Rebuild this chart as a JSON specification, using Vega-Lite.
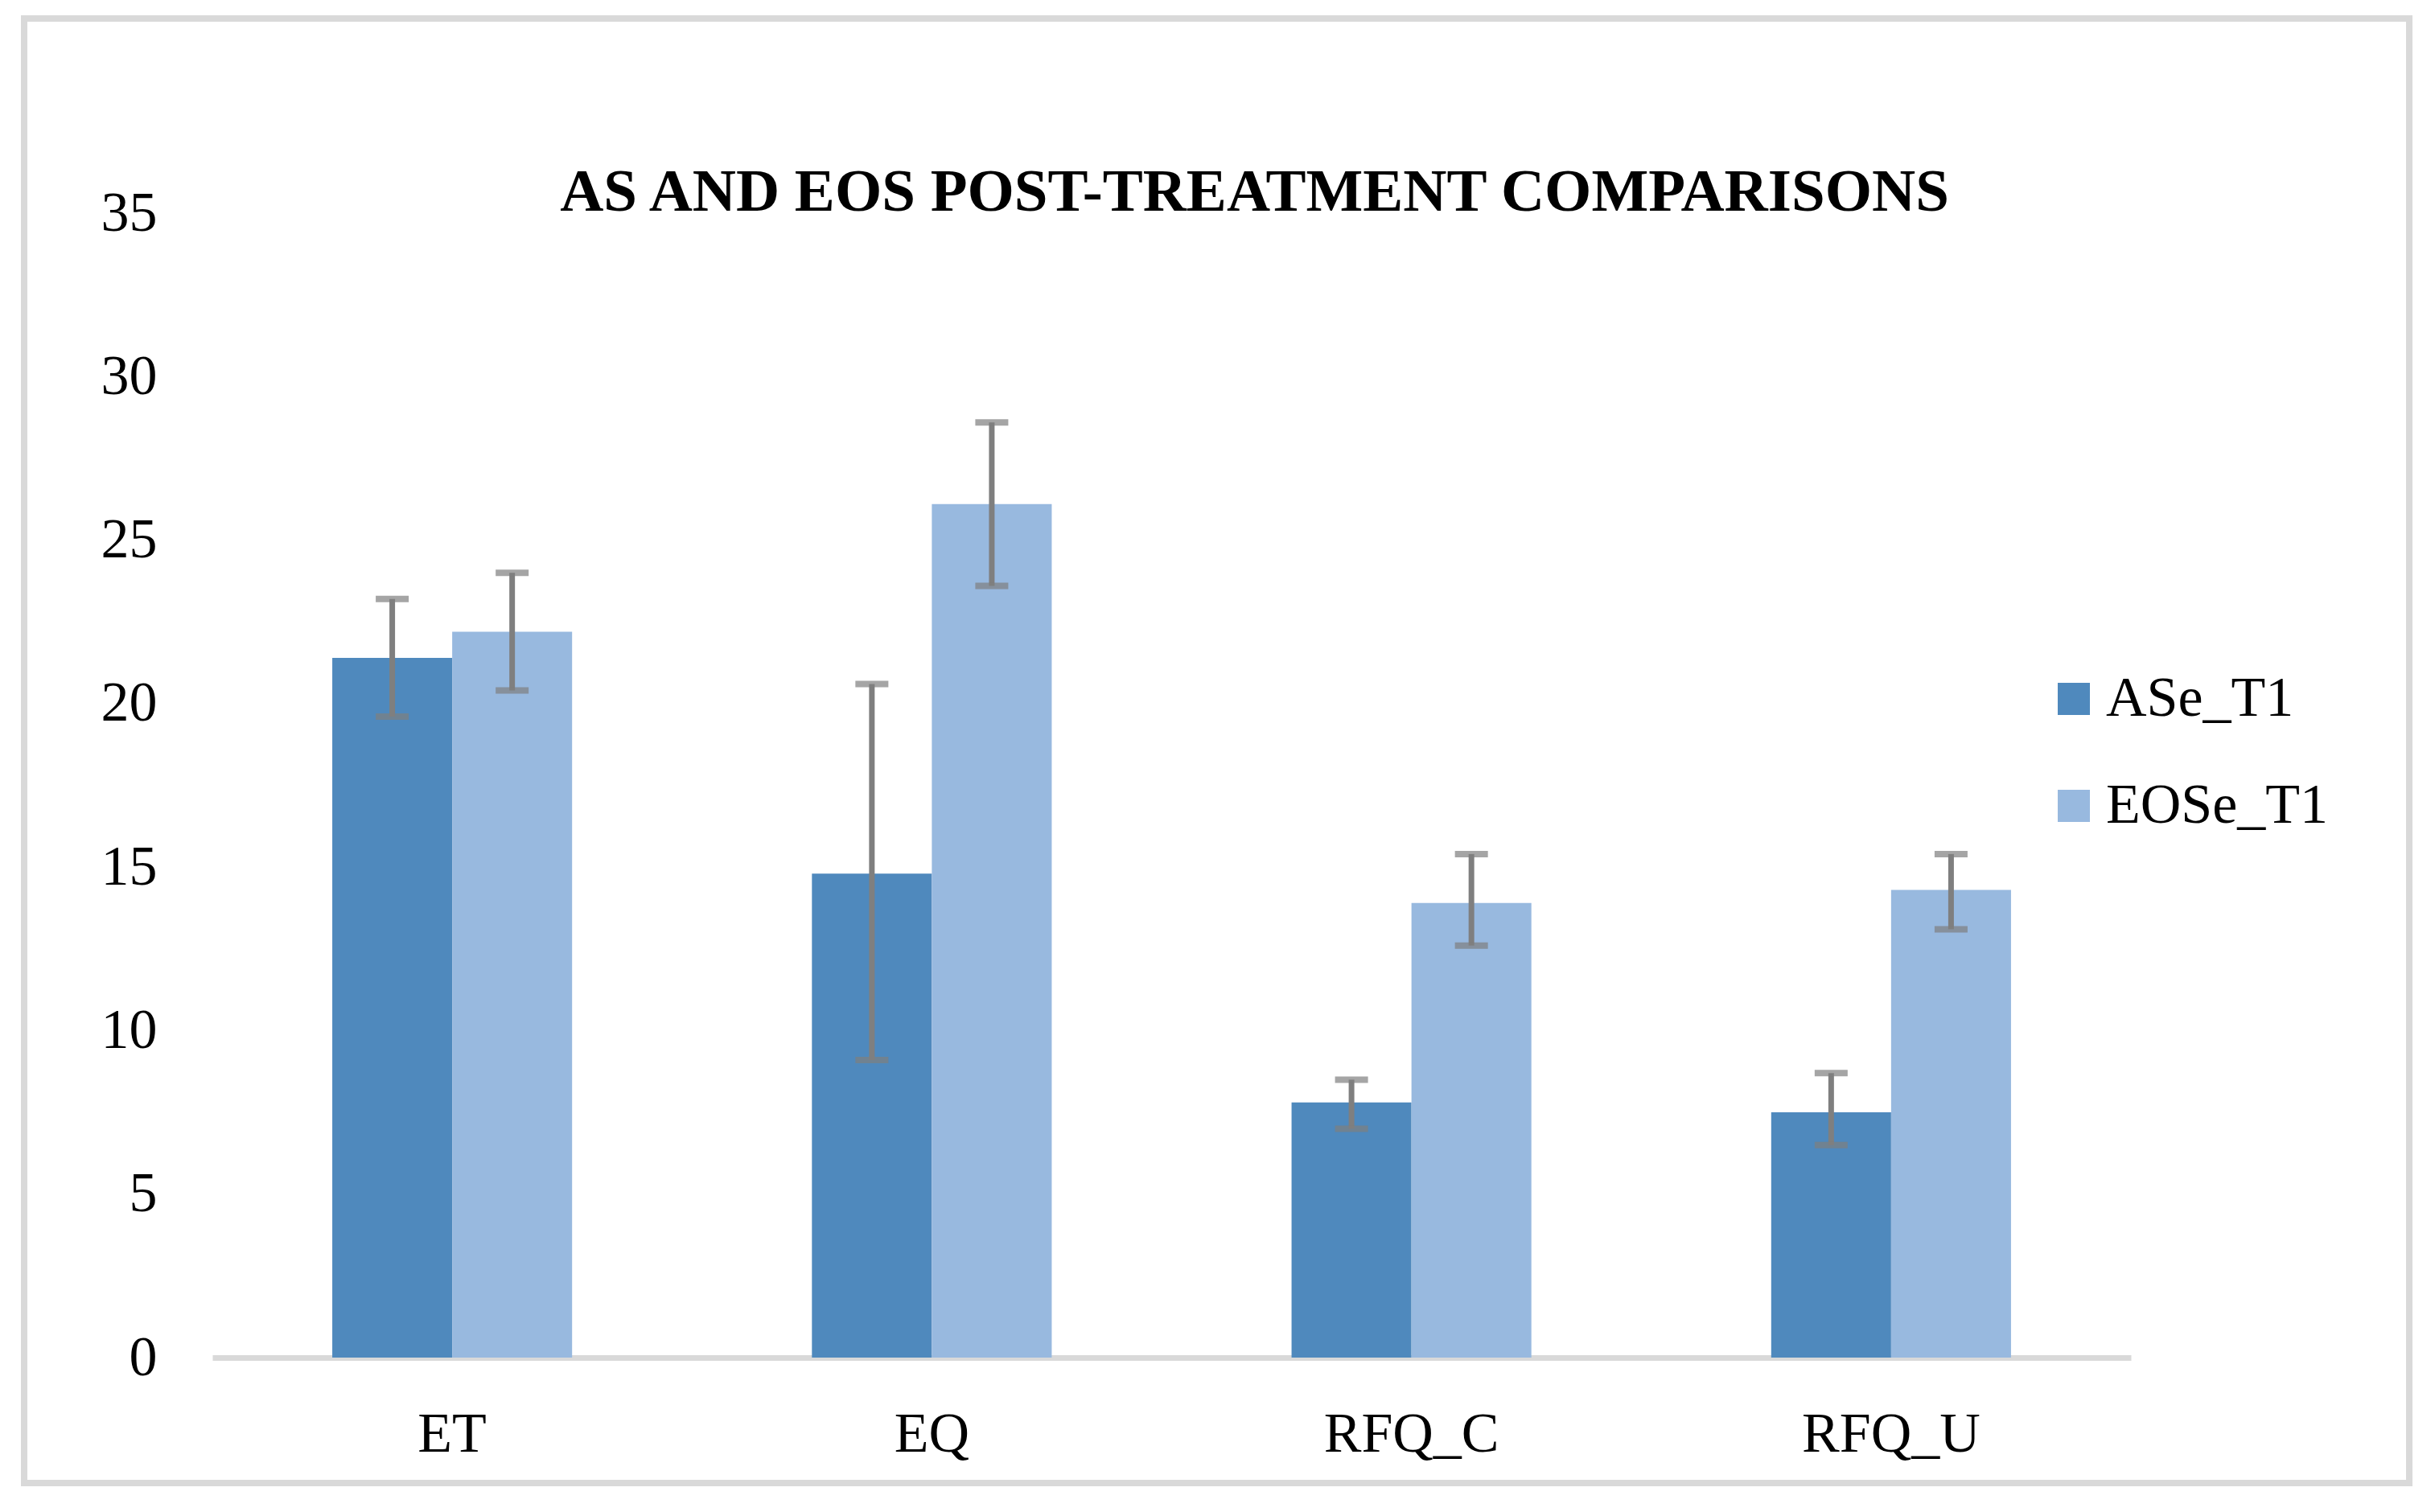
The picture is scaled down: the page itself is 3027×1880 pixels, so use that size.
{
  "$schema": "https://vega.github.io/schema/vega-lite/v6.json",
  "autosize": {"type": "none"},
  "padding": {"left": 30, "top": 23, "right": 32, "bottom": 36},
  "width": 2965,
  "height": 1821,
  "background": "white",
  "title": {
    "text": "AS AND EOS POST-TREATMENT COMPARISONS",
    "font": "Liberation Serif",
    "fontSize": 75,
    "fontWeight": "bold",
    "color": "black",
    "anchor": "middle",
    "frame": "group",
    "baseline": "alphabetic",
    "offset": 0,
    "dx": 47,
    "dy": 314,
    "limit": 0
  },
  "data": {
    "values": [
      {"cat": "ET", "series": "ASe_T1", "value": 21.4, "lo": 19.6, "hi": 23.2},
      {"cat": "ET", "series": "EOSe_T1", "value": 22.2, "lo": 20.4, "hi": 24.0},
      {"cat": "EQ", "series": "ASe_T1", "value": 14.8, "lo": 9.1, "hi": 20.6},
      {"cat": "EQ", "series": "EOSe_T1", "value": 26.1, "lo": 23.6, "hi": 28.6},
      {"cat": "RFQ_C", "series": "ASe_T1", "value": 7.8, "lo": 7.0, "hi": 8.5},
      {"cat": "RFQ_C", "series": "EOSe_T1", "value": 13.9, "lo": 12.6, "hi": 15.4},
      {"cat": "RFQ_U", "series": "ASe_T1", "value": 7.5, "lo": 6.5, "hi": 8.7},
      {"cat": "RFQ_U", "series": "EOSe_T1", "value": 14.3, "lo": 13.1, "hi": 15.4}
    ]
  },
  "encoding": {
    "x": {
      "field": "cat",
      "type": "nominal",
      "sort": ["ET", "EQ", "RFQ_C", "RFQ_U"],
      "scale": {"type": "band", "paddingInner": 0.5, "paddingOuter": 0.25, "range": [234, 2619]},
      "axis": {
        "title": null,
        "orient": "bottom",
        "offset": -156,
        "labelAngle": 0,
        "labelFont": "Liberation Serif",
        "labelFontSize": 70,
        "labelColor": "black",
        "labelPadding": 61,
        "labelLimit": 0,
        "ticks": false,
        "tickSize": 0,
        "domain": true,
        "domainColor": "#d9d9d9",
        "domainWidth": 7,
        "grid": false
      }
    },
    "xOffset": {"field": "series", "type": "nominal", "sort": ["ASe_T1", "EOSe_T1"], "scale": {"paddingInner": 0, "paddingOuter": 0}},
    "y": {
      "field": "value",
      "type": "quantitative",
      "scale": {"domain": [0, 35], "nice": false, "zero": true, "range": [1665, 242]},
      "axis": {
        "title": null,
        "offset": -234,
        "values": [0, 5, 10, 15, 20, 25, 30, 35],
        "labelFont": "Liberation Serif",
        "labelFontSize": 70,
        "labelColor": "black",
        "labelPadding": 69,
        "labelLimit": 0,
        "ticks": false,
        "tickSize": 0,
        "domain": false,
        "grid": false
      }
    }
  },
  "layer": [
    {
      "mark": {"type": "bar"},
      "encoding": {
        "color": {
          "field": "series",
          "type": "nominal",
          "scale": {"domain": ["ASe_T1", "EOSe_T1"], "range": ["#4f89bd", "#98b9df"]},
          "legend": {
            "title": null,
            "orient": "none",
            "legendX": 2513,
            "legendY": 811,
            "padding": 0,
            "symbolType": "square",
            "symbolSize": 1600,
            "symbolStrokeWidth": 0,
            "labelFont": "Liberation Serif",
            "labelFontSize": 70,
            "labelColor": "black",
            "labelOffset": 5,
            "labelLimit": 0,
            "rowPadding": 63
          }
        }
      }
    },
    {
      "mark": {"type": "rule", "color": "#7f7f7f", "strokeWidth": 7},
      "encoding": {"y": {"field": "lo", "type": "quantitative"}, "y2": {"field": "hi"}}
    },
    {
      "mark": {"type": "tick", "color": "#7f7f7f", "size": 41, "thickness": 8, "orient": "horizontal"},
      "encoding": {"y": {"field": "lo", "type": "quantitative"}}
    },
    {
      "mark": {"type": "tick", "color": "#7f7f7f", "size": 41, "thickness": 8, "orient": "horizontal"},
      "encoding": {"y": {"field": "hi", "type": "quantitative"}}
    }
  ],
  "config": {
    "view": {"stroke": "#d9d9d9", "strokeWidth": 8, "fill": "white"}
  }
}
